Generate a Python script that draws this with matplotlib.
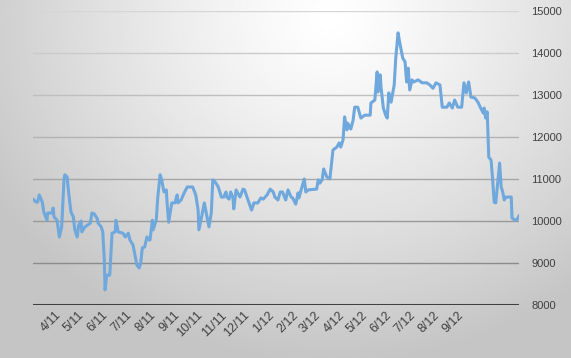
import numpy as np
import pandas as pd
import matplotlib
matplotlib.use('Agg')
from matplotlib import pyplot as plt

# values
dates = [
    '2011-03-04', '2011-03-08', '2011-03-10', '2011-03-12', '2011-03-16', '2011-03-18',
    '2011-03-22', '2011-03-23', '2011-03-29', '2011-03-30', '2011-03-31', '2011-04-04',
    '2011-04-07', '2011-04-10', '2011-04-13', '2011-04-14', '2011-04-17', '2011-04-19',
    '2011-04-22', '2011-04-25', '2011-04-27', '2011-04-30', '2011-05-02', '2011-05-05',
    '2011-05-06', '2011-05-10', '2011-05-17', '2011-05-19', '2011-05-22', '2011-05-26',
    '2011-05-27', '2011-05-31', '2011-06-02', '2011-06-04', '2011-06-05', '2011-06-07',
    '2011-06-11', '2011-06-14', '2011-06-18', '2011-06-19', '2011-06-22', '2011-06-28',
    '2011-07-01', '2011-07-05', '2011-07-07', '2011-07-11', '2011-07-14', '2011-07-16',
    '2011-07-19', '2011-07-21', '2011-07-23', '2011-07-26', '2011-07-29', '2011-08-01',
    '2011-08-02', '2011-08-05', '2011-08-06', '2011-08-10', '2011-08-12', '2011-08-15',
    '2011-08-17', '2011-08-20', '2011-08-23', '2011-08-24', '2011-08-26', '2011-08-30',
    '2011-09-03', '2011-09-06', '2011-09-07', '2011-09-11', '2011-09-15', '2011-09-19',
    '2011-09-26', '2011-09-30', '2011-10-03', '2011-10-04', '2011-10-08', '2011-10-11',
    '2011-10-14', '2011-10-17', '2011-10-20', '2011-10-22', '2011-10-25', '2011-10-29',
    '2011-11-02', '2011-11-05', '2011-11-08', '2011-11-09', '2011-11-12', '2011-11-14',
    '2011-11-17', '2011-11-18', '2011-11-21', '2011-11-23', '2011-11-26', '2011-11-30',
    '2011-12-02', '2011-12-06', '2011-12-11', '2011-12-14', '2011-12-19', '2011-12-23',
    '2011-12-26', '2011-12-31', '2012-01-04', '2012-01-08', '2012-01-10', '2012-01-14',
    '2012-01-17', '2012-01-20', '2012-01-24', '2012-01-27', '2012-01-31', '2012-02-02',
    '2012-02-06', '2012-02-09', '2012-02-10', '2012-02-14', '2012-02-17', '2012-02-19',
    '2012-02-22', '2012-03-04', '2012-03-06', '2012-03-08', '2012-03-11', '2012-03-13',
    '2012-03-17', '2012-03-21', '2012-03-25', '2012-03-30', '2012-04-02', '2012-04-04',
    '2012-04-07', '2012-04-09', '2012-04-12', '2012-04-13', '2012-04-17', '2012-04-20',
    '2012-04-22', '2012-04-26', '2012-04-30', '2012-05-05', '2012-05-12', '2012-05-13',
    '2012-05-18', '2012-05-21', '2012-05-22', '2012-05-25', '2012-05-26', '2012-05-29',
    '2012-06-01', '2012-06-03', '2012-06-05', '2012-06-08', '2012-06-12', '2012-06-14',
    '2012-06-17', '2012-06-19', '2012-06-23', '2012-06-26', '2012-06-28', '2012-06-30',
    '2012-07-02', '2012-07-05', '2012-07-07', '2012-07-13', '2012-07-18', '2012-07-24',
    '2012-07-28', '2012-08-01', '2012-08-05', '2012-08-10', '2012-08-13', '2012-08-19',
    '2012-08-22', '2012-08-26', '2012-08-29', '2012-09-02', '2012-09-07', '2012-09-10',
    '2012-09-13', '2012-09-16', '2012-09-19', '2012-09-24', '2012-09-28', '2012-10-01',
    '2012-10-05', '2012-10-06', '2012-10-08', '2012-10-10', '2012-10-11', '2012-10-12',
    '2012-10-15', '2012-10-17', '2012-10-19', '2012-10-21', '2012-10-23', '2012-10-26',
    '2012-10-28', '2012-10-30', '2012-11-01', '2012-11-03', '2012-11-10', '2012-11-11',
    '2012-11-15', '2012-11-17', '2012-11-20',
]
values = [
    10520, 10450, 10450, 10620, 10450, 10210,
    10020, 10190, 10190, 10310, 10100, 10020,
    9620, 9860, 10980, 11100, 11050, 10670,
    10210, 10100, 9790, 9620, 9900, 10000,
    9740, 9860, 9950, 10190, 10170, 10050,
    9950, 9860, 9740, 9070, 8360, 8710,
    8710, 9710, 9740, 10020, 9740, 9710,
    9620, 9710, 9550, 9430, 9140, 8950,
    8880, 9000, 9360, 9380, 9620, 9550,
    9550, 10020, 9790, 10020, 10570, 11100,
    10980, 10690, 10740, 10430, 9970, 10430,
    10430, 10620, 10430, 10500, 10670, 10810,
    10810, 10620, 10260, 9790, 10140, 10430,
    10140, 9860, 10190, 10980, 10930, 10810,
    10570, 10570, 10690, 10570, 10520, 10690,
    10550, 10290, 10740, 10670, 10570, 10760,
    10740, 10520, 10260, 10430, 10430, 10550,
    10520, 10620, 10760, 10690, 10570, 10500,
    10690, 10690, 10500, 10740, 10570, 10550,
    10400, 10670, 10550, 10810, 11000, 10690,
    10740, 10760, 10980, 10900, 10980, 11240,
    11050, 11000, 11690, 11760, 11860, 11760,
    11930, 12480, 12170, 12330, 12190, 12400,
    12710, 12710, 12450, 12520, 12520, 12810,
    12880, 13550, 13070, 13480, 13190, 12690,
    12520, 12450, 13050, 12830, 13240, 13880,
    14480, 14260, 13880, 13790, 13310, 13640,
    13120, 13360, 13310, 13360, 13290, 13290,
    13240, 13160, 13290, 13240, 12710, 12710,
    12810, 12690, 12880, 12710, 12710, 13290,
    13050, 13310, 12950, 12930, 12830, 12710,
    12570, 12690, 12450, 12600, 12050, 11520,
    11450, 10980, 10450, 10430, 10810, 11380,
    10810, 10690, 10500, 10570, 10570, 10070,
    10020, 10020, 10120,
]
y_ticks = [8000, 9000, 10000, 11000, 12000, 13000, 14000, 15000]
x_tick_labels = ['4/11', '5/11', '6/11', '7/11', '8/11', '9/11', '10/11', '11/11', '12/11',
                 '1/12', '2/12', '3/12', '4/12', '5/12', '6/12', '7/12', '8/12', '9/12']
x_tick_dates = pd.date_range('2011-04-01', '2012-09-01', freq='MS')

plt.rcParams['font.family'] = ['Liberation Sans', 'DejaVu Sans']

fig = plt.figure(figsize=(5.71, 3.58), dpi=100)

# radial grey background, brightest near the top middle
bg = fig.add_axes([0, 0, 1, 1], zorder=-10)
gx, gy = np.meshgrid(np.linspace(0, 1, 300), np.linspace(0, 1, 200))
r = np.sqrt(((gx - 0.58) * 1.25) ** 2 + ((gy - 0.05) * 0.9) ** 2)
shade = np.clip(1.0 - 0.27 * r ** 1.2, 0.77, 1.0)
bg.imshow(shade, cmap='gray', vmin=0, vmax=1, aspect='auto', extent=[0, 1, 1, 0])
bg.axis('off')

ax = fig.add_axes([33 / 571, 1 - 305 / 358, (519 - 33) / 571, (305 - 11) / 358])
ax.patch.set_alpha(0)

x = pd.to_datetime(dates)
ax.plot(x, values, color='#6fa8dc', lw=2.2, solid_joinstyle='round', zorder=3)

ax.set_xlim(x[0], x[-1])
ax.set_ylim(8000, 15000)

grid_colors = ['#8c8c8c', '#999999', '#a6a6a6', '#b3b3b3', '#bfbfbf', '#cbcbcb', '#d6d6d6']
for val, c in zip(y_ticks[1:], grid_colors):
    ax.axhline(val, color=c, lw=1, zorder=1)
ax.axhline(y_ticks[0], color='#404040', lw=2.2, zorder=2)

for s in ax.spines.values():
    s.set_visible(False)

ax.yaxis.tick_right()
ax.set_yticks(y_ticks)
ax.set_yticklabels([str(v) for v in y_ticks])
ax.tick_params(axis='y', length=0, pad=9, labelsize=8, labelcolor='#404040')

ax.set_xticks(x_tick_dates)
ax.set_xticklabels(x_tick_labels, rotation=45, ha='right', va='top', rotation_mode='anchor')
ax.tick_params(axis='x', length=0, pad=3, labelsize=9, labelcolor='#404040')

plt.savefig('out.png', dpi=100)
